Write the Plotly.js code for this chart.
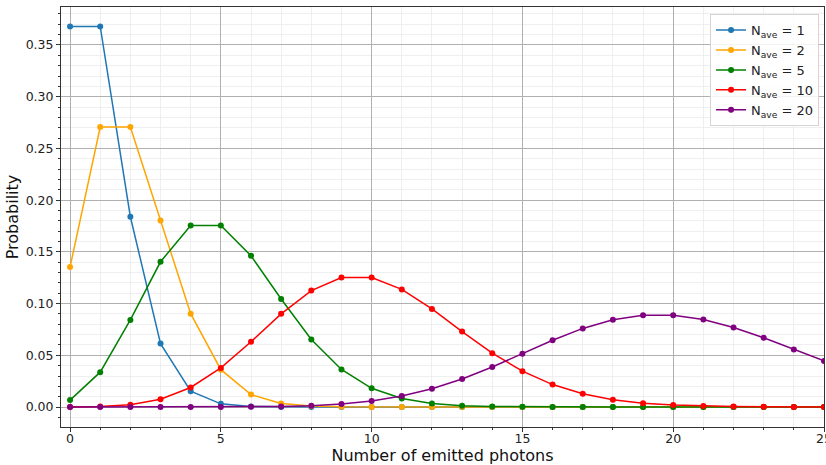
<!DOCTYPE html>
<html><head><meta charset="utf-8">
<script src="https://cdn.plot.ly/plotly-3.0.1.min.js"></script>
<style>html,body{margin:0;padding:0;background:#fff}#c{width:826px;height:465px}</style>
</head><body><div id="c"></div>
<script>
const photons = [0,1,2,3,4,5,6,7,8,9,10,11,12,13,14,15,16,17,18,19,20,21,22,23,24,25];
const labels = ["N<sub>ave</sub> = 1","N<sub>ave</sub> = 2","N<sub>ave</sub> = 5","N<sub>ave</sub> = 10","N<sub>ave</sub> = 20"];
const colors = ["#1f77b4","#ffa500","#008000","#ff0000","#800080"];
const pAve1 = [0.3679,0.3679,0.1839,0.0613,0.0153,0.0031,0.0005,0.0001,0,0,0,0,0,0,0,0,0,0,0,0,0,0,0,0,0,0];
const pAve2 = [0.1353,0.2707,0.2707,0.1804,0.0902,0.0361,0.0120,0.0034,0.0009,0.0002,0,0,0,0,0,0,0,0,0,0,0,0,0,0,0,0];
const pAve5 = [0.0067,0.0337,0.0842,0.1404,0.1755,0.1755,0.1462,0.1044,0.0653,0.0363,0.0181,0.0082,0.0034,0.0013,0.0005,0.0002,0,0,0,0,0,0,0,0,0,0];
const pAve10 = [0.0000,0.0005,0.0023,0.0076,0.0189,0.0378,0.0631,0.0901,0.1126,0.1251,0.1251,0.1137,0.0948,0.0729,0.0521,0.0347,0.0217,0.0128,0.0071,0.0037,0.0019,0.0009,0.0004,0.0002,0.0001,0];
const pAve20 = [0,0,0,0,0,0.0001,0.0002,0.0005,0.0013,0.0029,0.0058,0.0106,0.0176,0.0271,0.0387,0.0516,0.0646,0.0760,0.0844,0.0888,0.0888,0.0846,0.0769,0.0669,0.0557,0.0446];
const series = [pAve1,pAve2,pAve5,pAve10,pAve20];
const xTicks = [0,5,10,15,20,25];
const xTickText = ['0','5','10','15','20','25'];
const yTicks = [0,0.05,0.1,0.15,0.2,0.25,0.3,0.35];
const yTickText = ['0.00','0.05','0.10','0.15','0.20','0.25','0.30','0.35'];

const traces = series.map((ys,i)=>({
  x: photons, y: ys, type:'scatter', mode:'lines+markers', name: labels[i],
  line:{color:colors[i], width:1.5}, marker:{color:colors[i], size:6}
}));

const ff = 'DejaVu Sans, sans-serif';
const layout = {
  width:826, height:465,
  margin:{l:61, r:2, t:7, b:38},
  paper_bgcolor:'#fff', plot_bgcolor:'#fff',
  font: {family:ff, size:13, color:'#222'},
  showlegend:true,
  legend:{x:0.9935, y:0.983, xanchor:'right', yanchor:'top', bgcolor:'rgba(255,255,255,0.85)',
    bordercolor:'#d5d5d5', borderwidth:1, font:{family:ff, size:13, color:'#222'}, tracegroupgap:0, itemwidth:30},
  xaxis:{range:[-0.3,25.0], tickmode:'array', tickvals:xTicks, ticktext:xTickText,
    ticks:'outside', ticklen:4, tickcolor:'#333', showline:true, linecolor:'#333', linewidth:1, mirror:true,
    showgrid:true, gridcolor:'#b0b0b0', gridwidth:1, zeroline:false, ticklabeloverflow:'allow', ticklabelstandoff:-4,
    minor:{dtick:1, tick0:0, showgrid:true, gridcolor:'#ebebeb', gridwidth:0.8, ticks:'outside', ticklen:2, tickcolor:'#333'},
    title:{text:'Number of emitted photons', font:{family:ff, size:16, color:'#111'}, standoff:6},
    tickfont:{size:12.5}},
  yaxis:{range:[-0.0193,0.3867], tickmode:'array', tickvals:yTicks, ticktext:yTickText,
    ticks:'outside', ticklen:4, tickcolor:'#333', showline:true, linecolor:'#333', linewidth:1, mirror:true,
    showgrid:true, gridcolor:'#b0b0b0', gridwidth:1, zeroline:false,
    minor:{dtick:0.01, tick0:0, showgrid:true, gridcolor:'#ebebeb', gridwidth:0.8, ticks:'outside', ticklen:2, tickcolor:'#333'},
    title:{text:'Probability', font:{family:ff, size:16, color:'#111'}, standoff:3},
    tickfont:{size:12.5}}
};
Plotly.newPlot('c', traces, layout, {displayModeBar:false, staticPlot:true});
</script></body></html>
